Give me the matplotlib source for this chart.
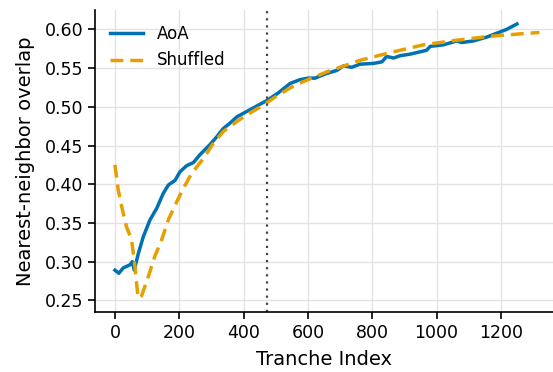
import matplotlib
matplotlib.use("Agg")
import matplotlib.pyplot as plt

# AoA curve (tranche index, overlap)
aoa_x = [0, 12, 26, 47, 54, 60, 73, 88, 109, 130, 150, 166, 187, 202, 223, 244, 264,
         295, 316, 337, 358, 379, 410, 441, 472, 508, 544, 575, 601, 622, 658, 690,
         711, 736, 762, 803, 830, 845, 866, 887, 918, 969, 980, 1021, 1063, 1078,
         1114, 1156, 1187, 1218, 1250]
aoa_y = [0.289, 0.285, 0.292, 0.296, 0.300, 0.289, 0.311, 0.332, 0.354, 0.369, 0.388,
         0.399, 0.405, 0.416, 0.424, 0.428, 0.438, 0.451, 0.461, 0.472, 0.479, 0.487,
         0.494, 0.501, 0.508, 0.518, 0.530, 0.535, 0.537, 0.537, 0.543, 0.547, 0.553,
         0.551, 0.555, 0.556, 0.558, 0.565, 0.563, 0.566, 0.568, 0.573, 0.578, 0.580,
         0.585, 0.583, 0.585, 0.590, 0.595, 0.600, 0.607]

# Shuffled curve
shuf_x = [0, 10, 21, 36, 52, 62, 72, 83, 104, 124, 145, 166, 187, 207, 233, 259, 275,
          306, 337, 379, 420, 461, 503, 560, 658, 762, 866, 959, 1063, 1166, 1254, 1320]
shuf_y = [0.425, 0.393, 0.371, 0.345, 0.328, 0.294, 0.253, 0.256, 0.281, 0.307, 0.328,
          0.354, 0.373, 0.390, 0.410, 0.425, 0.433, 0.453, 0.468, 0.481, 0.492, 0.502,
          0.514, 0.528, 0.545, 0.560, 0.571, 0.580, 0.586, 0.591, 0.594, 0.596]

split_x = 474

fig = plt.figure(figsize=(5.53, 3.72), dpi=100)
ax = fig.add_axes([95/553, 1 - 312/372, 1 - 95/553, (312 - 10)/372])

ax.grid(True, color="#e3e3e3", linewidth=1.0)
ax.set_axisbelow(True)
ax.plot(aoa_x, aoa_y, color="#0072b2", linewidth=2.5, label="AoA")
ax.plot(shuf_x, shuf_y, color="#e69f00", linewidth=2.5, dashes=(3.7, 2.0), label="Shuffled")
ax.axvline(split_x, color="#444444", linestyle=(0, (1, 2.2)), linewidth=1.6)

ax.set_xlim(-62, 1362)
ax.set_ylim(0.235, 0.625)
ax.set_xticks([0, 200, 400, 600, 800, 1000, 1200])
ax.set_yticks([0.25, 0.30, 0.35, 0.40, 0.45, 0.50, 0.55, 0.60])
ax.set_yticklabels(["%.2f" % v for v in ax.get_yticks()])

ax.spines["top"].set_visible(False)
ax.spines["right"].set_visible(False)
for s in ("left", "bottom"):
    ax.spines[s].set_linewidth(1.2)
ax.tick_params(labelsize=12.5, width=1.2, length=5)

ax.set_xlabel("Tranche Index", fontsize=14, labelpad=6)
ax.set_ylabel("Nearest-neighbor overlap", fontsize=14, labelpad=7)
ax.legend(loc="upper left", frameon=False, fontsize=12, handlelength=2.0)

fig.savefig("out.png", dpi=100)
